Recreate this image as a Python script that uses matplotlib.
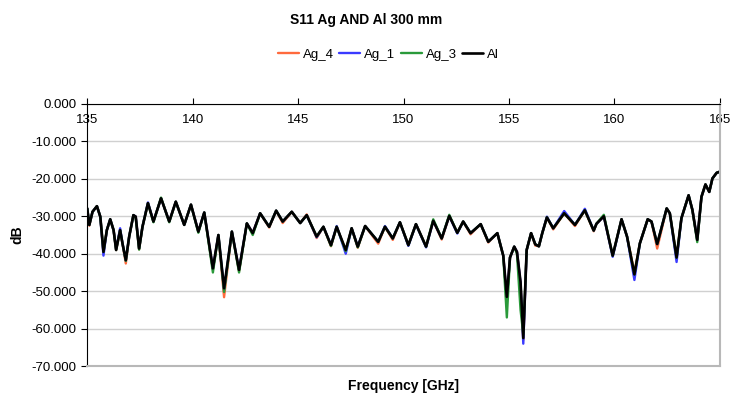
#! /usr/bin/env python3

import matplotlib
matplotlib.use('Agg')
from matplotlib import pyplot as plt
from matplotlib.ticker import FormatStrFormatter

plt.rcParams['font.family'] = ['Liberation Sans', 'DejaVu Sans']

# frequency points [GHz]
freq = [135.00, 135.10, 135.25, 135.46, 135.62, 135.77, 135.93, 136.09, 136.25, 136.37,
        136.56, 136.67, 136.83, 136.99, 137.19, 137.30, 137.46, 137.62, 137.88, 138.14,
        138.50, 138.89, 139.20, 139.60, 139.92, 140.27, 140.55, 140.96, 141.22, 141.49,
        141.86, 142.20, 142.57, 142.85, 143.20, 143.63, 143.96, 144.27, 144.70, 145.10,
        145.41, 145.88, 146.20, 146.56, 146.83, 147.26, 147.54, 147.83, 148.18, 148.80,
        149.12, 149.49, 149.83, 150.23, 150.59, 151.07, 151.41, 151.81, 152.17, 152.55,
        152.83, 153.18, 153.66, 154.02, 154.45, 154.73, 154.90, 155.05, 155.25, 155.38,
        155.55, 155.68, 155.84, 156.05, 156.25, 156.42, 156.58, 156.80, 157.10, 157.62,
        158.13, 158.60, 159.02, 159.15, 159.50, 159.92, 160.34, 160.60, 160.95, 161.21,
        161.58, 161.76, 162.03, 162.48, 162.63, 162.95, 163.18, 163.52, 163.70, 163.93,
        164.13, 164.32, 164.50, 164.65, 164.85, 165.00]

al = [-27.9, -32.3, -28.8, -27.3, -30.1, -39.5, -33.7, -30.8, -33.7, -39.0,
      -33.7, -37.2, -41.7, -35.4, -29.7, -30.1, -38.6, -32.8, -26.5, -31.4,
      -25.2, -31.4, -26.1, -32.3, -26.9, -34.1, -29.0, -43.9, -35.0, -49.2,
      -34.1, -44.3, -31.9, -34.5, -29.2, -32.8, -28.5, -31.4, -28.8, -31.8,
      -29.7, -35.4, -32.8, -37.7, -32.8, -39.0, -33.2, -38.1, -32.6, -36.8,
      -32.8, -35.9, -31.6, -37.7, -32.1, -38.1, -31.2, -35.9, -29.9, -34.4,
      -31.4, -34.5, -32.1, -36.8, -34.5, -40.5, -51.5, -41.0, -38.1, -39.5,
      -47.5, -62.5, -39.0, -34.5, -37.5, -38.0, -34.5, -30.3, -33.2, -29.2,
      -32.3, -28.4, -33.8, -32.0, -30.0, -40.5, -30.8, -35.4, -45.5, -37.2,
      -30.8, -31.4, -37.4, -27.9, -29.2, -41.0, -30.5, -24.4, -28.3, -36.3,
      -24.8, -21.5, -23.5, -19.9, -18.4, -18.1]

ag_4 = [-27.9, -32.5, -28.8, -27.3, -30.1, -39.8, -33.7, -30.8, -33.7, -39.0,
        -33.7, -37.2, -42.6, -35.4, -29.7, -30.1, -38.8, -32.8, -26.5, -31.4,
        -25.2, -31.4, -26.1, -32.3, -26.9, -34.1, -29.0, -44.2, -35.0, -51.6,
        -34.1, -44.6, -31.9, -34.5, -29.2, -33.0, -28.5, -31.8, -28.8, -31.8,
        -29.5, -35.8, -32.8, -38.0, -32.8, -39.2, -33.2, -38.4, -32.6, -37.3,
        -32.8, -36.3, -31.6, -37.7, -32.1, -38.1, -31.2, -36.2, -29.9, -34.4,
        -31.4, -34.8, -32.1, -37.0, -34.5, -40.5, -52.0, -41.0, -38.1, -39.5,
        -48.0, -63.0, -39.0, -34.5, -37.8, -38.0, -34.5, -30.3, -33.5, -29.2,
        -32.6, -28.4, -34.0, -32.0, -30.0, -40.5, -30.8, -35.4, -45.0, -37.2,
        -30.8, -31.4, -38.6, -27.9, -29.2, -41.0, -30.5, -24.4, -28.3, -36.3,
        -24.8, -21.5, -23.5, -19.9, -18.4, -18.1]

ag_1 = [-27.9, -32.3, -28.8, -27.3, -30.1, -40.5, -33.7, -30.8, -33.7, -38.8,
        -33.2, -37.2, -41.8, -35.4, -29.7, -30.1, -38.6, -32.8, -26.3, -31.4,
        -25.2, -31.4, -26.1, -32.3, -26.9, -34.1, -29.0, -44.0, -35.0, -49.6,
        -34.1, -44.3, -31.9, -34.5, -29.2, -32.8, -28.5, -31.4, -28.8, -31.8,
        -29.7, -35.6, -32.8, -37.7, -32.6, -40.0, -33.2, -38.1, -32.6, -36.8,
        -32.6, -35.9, -31.6, -37.9, -32.1, -38.3, -31.2, -35.9, -29.9, -34.6,
        -31.4, -34.5, -32.1, -36.8, -34.5, -40.5, -52.0, -41.0, -38.1, -39.5,
        -47.8, -64.0, -39.0, -34.5, -37.5, -38.0, -34.5, -30.1, -33.2, -28.6,
        -32.3, -28.0, -33.8, -32.0, -30.0, -40.8, -30.8, -35.4, -47.0, -37.2,
        -30.8, -31.4, -37.4, -27.9, -29.2, -42.2, -30.5, -24.4, -28.3, -36.3,
        -24.8, -21.5, -23.5, -19.9, -18.4, -18.1]

ag_3 = [-27.9, -32.3, -28.8, -27.3, -30.1, -39.5, -33.7, -30.8, -33.7, -39.0,
        -33.7, -37.2, -41.9, -35.4, -29.7, -30.4, -38.9, -32.8, -26.5, -31.6,
        -25.0, -31.6, -26.1, -32.3, -26.9, -34.4, -29.0, -45.0, -35.0, -50.2,
        -34.1, -45.0, -31.9, -35.0, -29.2, -32.8, -28.5, -31.4, -28.8, -31.8,
        -29.7, -35.4, -32.8, -37.9, -32.8, -39.3, -33.2, -38.3, -32.6, -36.8,
        -32.8, -35.9, -31.6, -37.7, -32.1, -38.1, -30.8, -35.9, -29.6, -34.4,
        -31.4, -34.5, -32.1, -36.8, -34.5, -40.5, -57.0, -41.0, -38.1, -40.0,
        -55.0, -61.5, -39.0, -34.5, -37.5, -38.0, -34.5, -30.3, -33.2, -29.2,
        -32.3, -28.4, -33.8, -32.0, -29.6, -40.5, -30.8, -35.4, -45.5, -37.2,
        -30.8, -31.4, -37.4, -27.9, -29.2, -41.0, -30.5, -24.4, -28.3, -36.9,
        -24.8, -21.5, -23.5, -19.9, -18.4, -18.1]

series = [("Ag_4", ag_4, "#ff6a3d"),
          ("Ag_1", ag_1, "#3a3aff"),
          ("Ag_3", ag_3, "#2a9a3a"),
          ("Al", al, "#000000")]

fig = plt.figure(figsize=(7.33, 3.98), dpi=100)
ax = fig.add_axes([0.119, 0.080, 0.863, 0.659])

for name, vals, col in series:
    ax.plot(freq, vals, color=col, lw=1.7 if name != "Al" else 1.9,
            label=name, solid_joinstyle='round', solid_capstyle='round')

ax.set_xlim(135, 165)
ax.set_ylim(-70, 0)
ax.set_xticks(range(135, 166, 5))
ax.set_yticks(range(-70, 1, 10))
ax.yaxis.set_major_formatter(FormatStrFormatter('%.3f'))
ax.yaxis.grid(True, color='#d0d0d0', lw=1)
ax.set_axisbelow(True)

# x axis sits at the top (dB = 0), labels hang under it
ax.tick_params(axis='x', top=True, bottom=False, labeltop=True,
               labelbottom=False, direction='out', length=4,
               pad=-20, labelsize=9.5)
ax.tick_params(axis='y', direction='out', length=4, labelsize=9.5)

ax.spines['top'].set_color('black')
ax.spines['left'].set_color('black')
ax.spines['right'].set_color('#b8b8b8')
ax.spines['bottom'].set_color('#b8b8b8')
ax.spines['right'].set_linewidth(1.5)
ax.spines['bottom'].set_linewidth(1.5)

ax.set_xlabel("Frequency [GHz]", fontweight='bold', fontsize=10, labelpad=9)
ax.xaxis.set_label_position('bottom')
ax.set_ylabel("dB", fontweight='bold', fontsize=10, labelpad=5)

fig.suptitle("S11 Ag AND Al 300 mm", fontweight='bold', fontsize=10, y=0.968)
fig.legend(loc='center', bbox_to_anchor=(0.53, 0.862), ncol=4, frameon=False,
           fontsize=9.5, handlelength=1.6, handletextpad=0.3, columnspacing=0.4)

plt.savefig("out.png")
